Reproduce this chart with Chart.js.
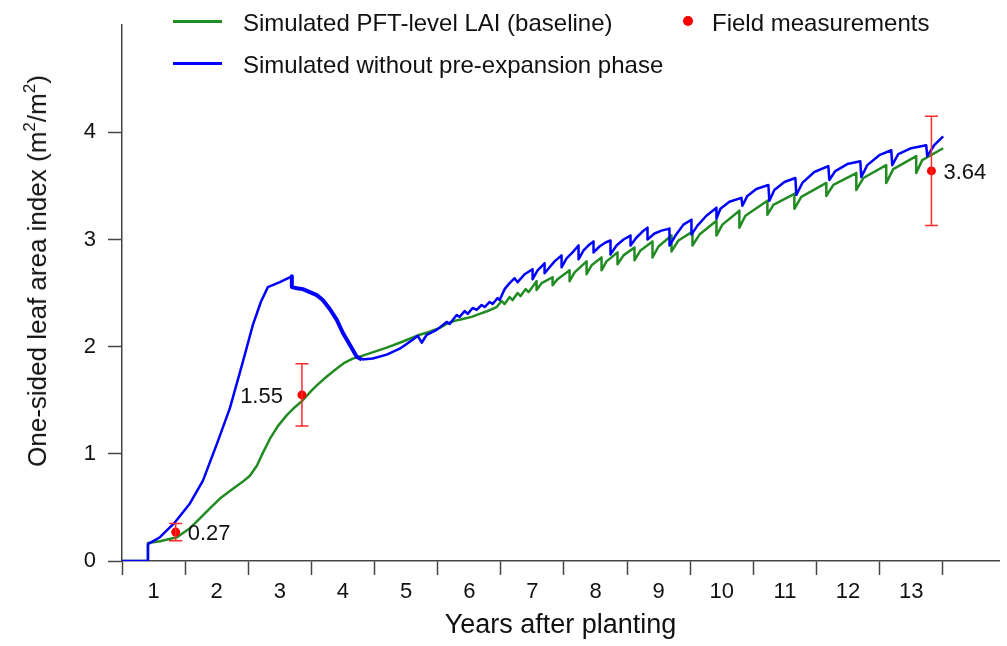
<!DOCTYPE html>
<html>
<head>
<meta charset="utf-8">
<script src="https://cdn.jsdelivr.net/npm/chart.js@4.4.1/dist/chart.umd.min.js"></script>
<style>
    body { margin: 0; background: #fff; }
    #wrap { position: relative; width: 1007px; height: 646px; font-family: "Liberation Sans", Arial, sans-serif; color: #111; }
    #c { position: absolute; left: 0; top: 0; }
    .ytitle { position: absolute; left: 37px; top: 271px; transform: translate(-50%, -50%) rotate(-90deg); font-size: 26px; line-height: 30px; white-space: nowrap; }
    .ytitle sup { font-size: 17px; position: relative; top: -11px; vertical-align: baseline; line-height: 0; }
    .lg-line { position: absolute; left: 173px; width: 49px; height: 3px; }
    .lg-text { position: absolute; font-size: 24px; line-height: 24px; white-space: nowrap; }
    .lg-dot { position: absolute; left: 683px; top: 16px; width: 10px; height: 10px; border-radius: 50%; background: #ff0000; }
</style>
</head>
<body>
<div id="wrap">
    <canvas id="c" width="1007" height="646"></canvas>
    <div class="ytitle">One-sided leaf area index (m<sup>2</sup>/m<sup>2</sup>)</div>
    <div class="lg-line" style="top:20px; background:#228B22;"></div>
    <div class="lg-text" style="left:243px; top:11px;">Simulated PFT-level LAI (baseline)</div>
    <div class="lg-dot"></div>
    <div class="lg-text" style="left:712px; top:11px;">Field measurements</div>
    <div class="lg-line" style="top:62px; background:#0000ff;"></div>
    <div class="lg-text" style="left:243px; top:53px;">Simulated without pre-expansion phase</div>
</div>
<script>
// years since the first tick, and LAI (m2/m2)
const baselineT = [0, 0.411, 0.411, 0.601, 0.870, 1.076, 1.234, 1.392, 1.551, 1.741, 1.915, 2.025, 2.136, 2.231, 2.342, 2.468, 2.611, 2.737, 2.848, 2.975,
    3.085, 3.244, 3.402, 3.528, 3.655, 3.813, 4.003, 4.193, 4.399, 4.557, 4.715, 4.873, 5.032, 5.142, 5.269, 5.396, 5.538, 5.665, 5.791, 5.934,
    6.013, 6.060, 6.139, 6.187, 6.266, 6.313, 6.392, 6.440, 6.566, 6.566, 6.646, 6.820, 6.820, 6.899, 7.089, 7.089, 7.168, 7.358, 7.358, 7.437,
    7.595, 7.595, 7.674, 7.848, 7.848, 7.943, 8.117, 8.117, 8.212, 8.402, 8.402, 8.497, 8.703, 8.703, 8.813, 9.035, 9.035, 9.146, 9.415, 9.415,
    9.509, 9.778, 9.778, 9.873, 10.222, 10.222, 10.316, 10.649, 10.649, 10.759, 11.155, 11.155, 11.266, 11.630, 11.630, 11.741, 12.104, 12.104, 12.215, 12.579,
    12.579, 12.674, 13.006];
const baselineLai = [0, 0, 0.167, 0.185, 0.222, 0.306, 0.398, 0.491, 0.583, 0.667, 0.741, 0.796, 0.889, 1.009, 1.139, 1.259, 1.361, 1.435, 1.491, 1.574,
    1.639, 1.722, 1.796, 1.852, 1.889, 1.917, 1.954, 1.991, 2.037, 2.074, 2.111, 2.139, 2.176, 2.213, 2.241, 2.259, 2.278, 2.306, 2.333, 2.370,
    2.426, 2.398, 2.463, 2.435, 2.5, 2.472, 2.537, 2.509, 2.611, 2.528, 2.593, 2.648, 2.574, 2.630, 2.713, 2.611, 2.694, 2.796, 2.676, 2.759,
    2.833, 2.713, 2.796, 2.880, 2.769, 2.852, 2.926, 2.806, 2.898, 2.981, 2.833, 2.935, 3.037, 2.889, 2.991, 3.074, 2.944, 3.046, 3.176, 3.037,
    3.139, 3.269, 3.111, 3.222, 3.361, 3.231, 3.324, 3.426, 3.287, 3.398, 3.528, 3.407, 3.509, 3.620, 3.463, 3.574, 3.694, 3.528, 3.657, 3.778,
    3.620, 3.741, 3.852];

const noPreT = [0, 0.411, 0.411, 0.601, 0.839, 1.076, 1.282, 1.503, 1.709, 1.915, 2.073, 2.199, 2.310, 2.5, 2.690, 2.690, 2.769, 2.864, 2.975, 3.085,
    3.180, 3.291, 3.402, 3.497, 3.608, 3.718, 3.797, 3.972, 4.193, 4.399, 4.604, 4.684, 4.747, 4.826, 4.984, 5.142, 5.190, 5.301, 5.348, 5.427,
    5.475, 5.554, 5.617, 5.696, 5.744, 5.823, 5.870, 5.949, 5.981, 6.060, 6.139, 6.218, 6.266, 6.377, 6.503, 6.503, 6.582, 6.693, 6.693, 6.772,
    6.851, 6.962, 6.962, 7.041, 7.136, 7.231, 7.231, 7.310, 7.405, 7.468, 7.468, 7.563, 7.658, 7.737, 7.737, 7.832, 7.943, 8.054, 8.054, 8.149,
    8.244, 8.323, 8.323, 8.434, 8.544, 8.671, 8.671, 8.766, 8.892, 9.019, 9.019, 9.114, 9.256, 9.415, 9.415, 9.478, 9.620, 9.810, 9.826, 9.905,
    10.047, 10.237, 10.253, 10.332, 10.491, 10.665, 10.680, 10.775, 10.965, 11.187, 11.203, 11.297, 11.487, 11.693, 11.709, 11.804, 11.994, 12.184, 12.199, 12.294,
    12.5, 12.737, 12.753, 12.864, 13.006];
const noPreLai = [0, 0, 0.157, 0.222, 0.361, 0.537, 0.75, 1.093, 1.426, 1.861, 2.204, 2.417, 2.556, 2.602, 2.657, 2.556, 2.546, 2.537, 2.509, 2.481,
    2.435, 2.352, 2.250, 2.130, 2.019, 1.907, 1.880, 1.889, 1.926, 1.981, 2.065, 2.102, 2.037, 2.111, 2.157, 2.231, 2.213, 2.296, 2.278, 2.333,
    2.306, 2.361, 2.343, 2.389, 2.370, 2.417, 2.398, 2.454, 2.435, 2.537, 2.593, 2.639, 2.602, 2.676, 2.722, 2.630, 2.713, 2.778, 2.685, 2.741,
    2.796, 2.852, 2.741, 2.824, 2.880, 2.944, 2.815, 2.898, 2.954, 2.981, 2.880, 2.935, 2.972, 2.991, 2.861, 2.944, 3.0, 3.037, 2.944, 3.019,
    3.074, 3.111, 3.0, 3.056, 3.083, 3.102, 2.944, 3.037, 3.139, 3.185, 3.046, 3.130, 3.222, 3.296, 3.194, 3.287, 3.352, 3.389, 3.315, 3.407,
    3.472, 3.509, 3.361, 3.463, 3.537, 3.574, 3.417, 3.528, 3.630, 3.685, 3.556, 3.639, 3.704, 3.731, 3.583, 3.694, 3.787, 3.833, 3.694, 3.796,
    3.852, 3.880, 3.778, 3.880, 3.963];

// field measurements: mean and half-width of the error bar
const measureT = [0.85, 2.85, 12.82];
const measureLai = [0.27, 1.55, 3.64];
const measureErr = [0.08, 0.29, 0.51];

const xTickLabels = ['1', '2', '3', '4', '5', '6', '7', '8', '9', '10', '11', '12', '13'];
const yTicks = [0, 1, 2, 3, 4];

const FONT = '"Liberation Sans", Arial, sans-serif';
const AXIS = '#444';

Chart.defaults.font.family = FONT;
Chart.defaults.color = '#111';

const zip = (xs, ys) => xs.map((x, i) => ({ x: x, y: ys[i] }));

// labels next to the measurement points
const valueLabels = {
    id: 'valueLabels',
    afterDatasetsDraw(chart) {
        const { ctx, scales: { x, y } } = chart;
        ctx.save();
        ctx.font = '22px ' + FONT;
        ctx.fillStyle = '#111';
        ctx.textBaseline = 'middle';
        measureT.forEach((t, i) => {
            const px = x.getPixelForValue(t);
            const py = y.getPixelForValue(measureLai[i]);
            const onLeft = i === 1;
            ctx.textAlign = onLeft ? 'right' : 'left';
            ctx.fillText(measureLai[i].toFixed(2), px + (onLeft ? -19 : 12), py + 2);
        });
        ctx.restore();
    }
};

const errorBars = measureT.map((t, i) => ({
    type: 'line',
    data: [{ x: t, y: measureLai[i] - measureErr[i] }, { x: t, y: measureLai[i] + measureErr[i] }],
    borderColor: '#ff2a2a',
    borderWidth: 1.5,
    pointStyle: 'line',
    pointRadius: 6.5,
    pointBorderWidth: 1.5,
    pointBorderColor: '#ff2a2a',
    order: 0
}));

new Chart(document.getElementById('c'), {
    type: 'line',
    data: {
        datasets: [
            {
                label: 'Simulated PFT-level LAI (baseline)',
                data: zip(baselineT, baselineLai),
                borderColor: '#228B22',
                borderWidth: 2.5,
                pointRadius: 0,
                borderJoinStyle: 'round',
                order: 3
            },
            {
                label: 'Simulated without pre-expansion phase',
                data: zip(noPreT, noPreLai),
                borderColor: '#0000ff',
                borderWidth: 2.5,
                pointRadius: 0,
                borderJoinStyle: 'round',
                segment: {
                    // the noisy stretch after the peak looks thicker
                    borderWidth: ctx => (ctx.p0.parsed.x >= 2.69 && ctx.p1.parsed.x <= 3.8) ? 4 : 2.5
                },
                order: 2
            },
            ...errorBars,
            {
                label: 'Field measurements',
                data: zip(measureT, measureLai),
                showLine: false,
                pointRadius: 4.5,
                pointBackgroundColor: '#ff0000',
                pointBorderWidth: 0,
                order: 0
            }
        ]
    },
    options: {
        responsive: false,
        animation: false,
        devicePixelRatio: 1,
        layout: { padding: { top: 21, right: 7, left: 0, bottom: 0 } },
        plugins: { legend: { display: false }, tooltip: { enabled: false } },
        scales: {
            x: {
                type: 'linear',
                min: 0,
                max: 13.89,
                afterBuildTicks: scale => {
                    const ticks = [];
                    xTickLabels.forEach((_, i) => ticks.push({ value: i }, { value: i + 0.5 }));
                    ticks.push({ value: xTickLabels.length });
                    scale.ticks = ticks;
                },
                afterFit: scale => { scale.height = 85; },
                border: { color: AXIS, width: 1.5 },
                grid: {
                    drawOnChartArea: false,
                    tickLength: 14,
                    tickWidth: 1.5,
                    color: 'rgba(0,0,0,0)',
                    tickColor: ctx => Number.isInteger(ctx.tick.value) ? AXIS : 'rgba(0,0,0,0)'
                },
                ticks: {
                    autoSkip: false,
                    maxRotation: 0,
                    minRotation: 0,
                    padding: 4,
                    font: { size: 22 },
                    callback: value => Number.isInteger(value) ? '' : xTickLabels[Math.floor(value)]
                },
                title: {
                    display: true,
                    text: 'Years after planting',
                    font: { size: 27 },
                    padding: { top: 0, bottom: 4 }
                }
            },
            y: {
                type: 'linear',
                min: 0,
                max: 5,
                afterBuildTicks: scale => { scale.ticks = yTicks.map(v => ({ value: v })); },
                afterFit: scale => { scale.width = 122; },
                border: { color: AXIS, width: 1.5 },
                grid: {
                    drawOnChartArea: false,
                    tickLength: 14,
                    tickWidth: 1.5,
                    color: AXIS
                },
                ticks: {
                    padding: 12,
                    font: { size: 22 },
                    callback: value => String(value)
                }
            }
        }
    },
    plugins: [valueLabels]
});
</script>
</body>
</html>
